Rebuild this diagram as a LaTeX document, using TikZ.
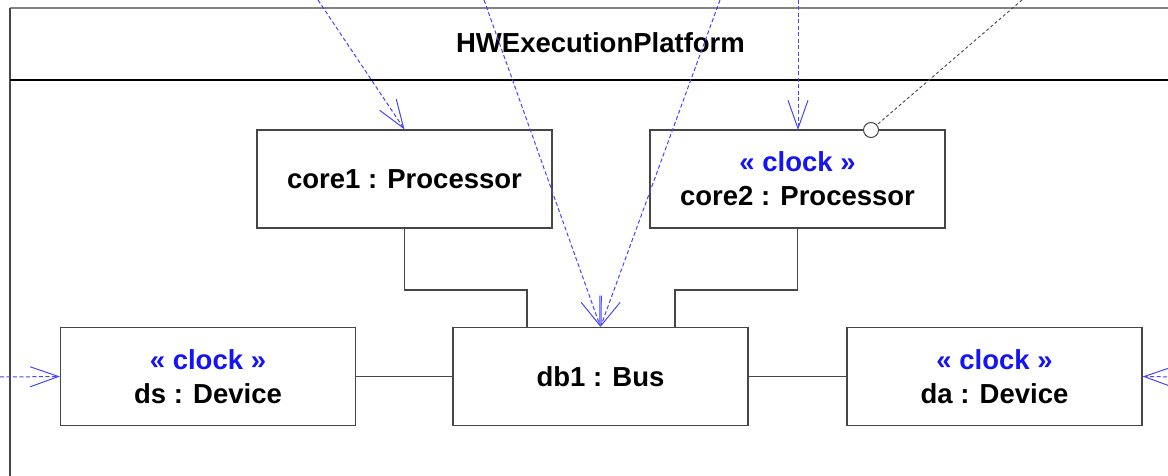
\documentclass[tikz,border=0pt]{standalone}
\usepackage{fontspec}
\setmainfont{Liberation Sans}
\usetikzlibrary{arrows.meta}
\definecolor{stereo}{RGB}{20,20,245}
\definecolor{depblue}{RGB}{70,70,255}
\definecolor{edge}{RGB}{70,70,70}
\definecolor{framegray}{RGB}{130,130,130}
\tikzset{
  part/.style={draw=edge, line width=1.1pt, fill=white, minimum width=295pt, minimum height=98pt,
    inner sep=0pt, align=center, font=\fontsize{27.5}{34}\selectfont\bfseries},
  wire/.style={draw=edge, line width=1.1pt},
  dep/.style={draw=depblue, line width=1pt, dash pattern=on 4pt off 2.5pt,
    -{Straight Barb[angle=39:30pt, line width=1pt]}},
  note/.style={draw=edge, line width=0.9pt, dash pattern=on 3pt off 2.5pt},
  portc/.style={circle, draw=edge, line width=1pt, fill=white, minimum size=15pt, inner sep=0pt},
  st/.style={text=stereo}
}
\begin{document}
\begin{tikzpicture}[x=1pt,y=-1pt]
\clip (0,0) rectangle (1168,476);
\fill[white] (0,0) rectangle (1168,476);
% frame
\draw[framegray, line width=1.1pt] (10,8) -- (1180,8);
\draw[edge, line width=1.1pt] (10,8) -- (10,490);
\draw[black, line width=1.1pt] (10,80) -- (1180,80);
\node[anchor=base, font=\fontsize{27.5}{34}\selectfont\bfseries] (title) at (600.5,53) {HWExecutionPlatform};
% parts
\node[part] (core1) at (404.5,179) {core1 : Processor};
\node[part] (core2) at (797.5,179) {{\color{stereo}« clock »}\\core2 : Processor};
\node[part] (ds) at (208,376.5) {{\color{stereo}« clock »}\\ds : Device};
\node[part] (db1) at (600.5,376.5) {db1 : Bus};
\node[part] (da) at (994.5,376.5) {{\color{stereo}« clock »}\\da : Device};
% connectors
\coordinate (j1) at (404.5,290);
\coordinate (j2) at (527,290);
\coordinate (j3) at (797.5,290);
\coordinate (j4) at (675,290);
\draw[wire] (core1.south) -- (j1) -- (j2) -- (j2 |- db1.north);
\draw[wire] (core2.south) -- (j3) -- (j4) -- (j4 |- db1.north);
\draw[wire] (ds.east) -- (db1.west);
\draw[wire] (db1.east) -- (da.west);
% dependencies
\coordinate (s1) at (318,0);
\coordinate (s2) at (484,0);
\coordinate (s3) at (720,0);
\coordinate (s4) at (798,0);
\coordinate (t4) at (798,130);
\coordinate (s5) at (1022,0);
\coordinate (s6) at (0,377);
\coordinate (s7) at (1180,377);
\draw[dep] (s1) -- (core1.north);
\draw[dep] (s2) -- (db1.north);
\draw[dep] (s3) -- (db1.north);
\draw[dep] (s4) -- (t4);
\draw[dep] (s6) -- (ds.west);
\draw[dep] (s7) -- (da.east);
\node[portc] (port) at (871,130) {};
\draw[note] (s5) -- (port);
\end{tikzpicture}
\end{document}
